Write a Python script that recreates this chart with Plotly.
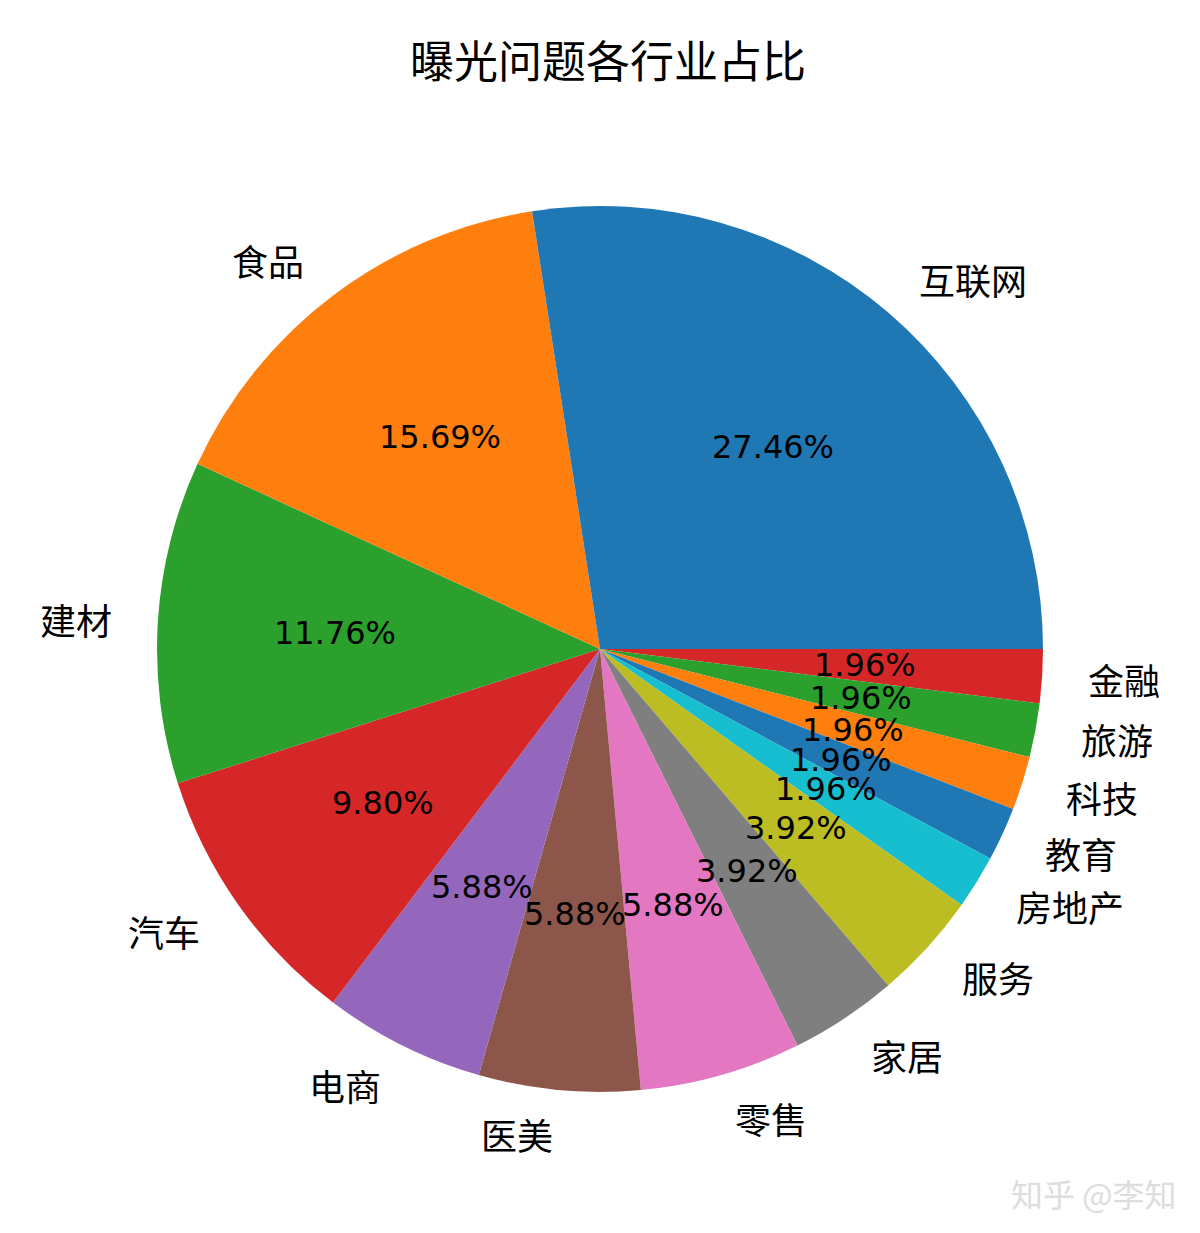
import math
import plotly.graph_objects as go

labels = ["互联网", "食品", "建材", "汽车", "电商", "医美", "零售", "家居", "服务",
          "房地产", "教育", "科技", "旅游", "金融"]
counts = [14, 8, 6, 5, 3, 3, 3, 2, 2, 1, 1, 1, 1, 1]
pct_text = ["27.46%", "15.69%", "11.76%", "9.80%", "5.88%", "5.88%", "5.88%", "3.92%",
            "3.92%", "1.96%", "1.96%", "1.96%", "1.96%", "1.96%"]
tab10 = ["#1f77b4", "#ff7f0e", "#2ca02c", "#d62728", "#9467bd", "#8c564b",
         "#e377c2", "#7f7f7f", "#bcbd22", "#17becf"]
colors = [tab10[i % 10] for i in range(len(labels))]

W, H = 1200, 1233
cx, cy, R = 592, 592, 443   # pixel centre (from bottom) and radius
font = "Noto Sans CJK SC"

# plotly draws clockwise from 3 o'clock; feed reversed order so it reads counterclockwise
fig = go.Figure(go.Pie(
    labels=labels[::-1], values=counts[::-1], sort=False, direction="clockwise",
    rotation=90, marker=dict(colors=colors[::-1]), textinfo="none",
    hoverinfo="label+percent", showlegend=False,
    domain=dict(x=[(cx - R) / W, (cx + R) / W], y=[(cy - R) / H, (cy + R) / H]),
))

total = sum(counts)
start = 0.0
annotations = []
for lab, c, pt in zip(labels, counts, pct_text):
    ang = (start + c / 2) / total * 2 * math.pi
    start += c
    co, si = math.cos(ang), math.sin(ang)
    annotations.append(dict(
        x=(cx + 1.1 * R * co) / W, y=(cy + 1.1 * R * si) / H, xref="paper", yref="paper",
        text=lab, showarrow=False, font=dict(family=font, size=36, color="black"),
        xanchor="left" if co > 0 else "right", yanchor="middle"))
    annotations.append(dict(
        x=(cx + 0.6 * R * co) / W, y=(cy + 0.6 * R * si) / H, xref="paper", yref="paper",
        text=pt, showarrow=False,
        font=dict(family="DejaVu Sans", size=32, color="black"),
        xanchor="center", yanchor="middle"))

annotations.append(dict(x=1170 / W, y=(H - 1185) / H, xref="paper", yref="paper",
                        text="知乎 @李知", showarrow=False, xanchor="right", yanchor="middle",
                        font=dict(family=font, size=32, color="#dddddd")))

fig.update_layout(
    width=W, height=H, margin=dict(l=0, r=0, t=0, b=0),
    paper_bgcolor="white", plot_bgcolor="white",
    title=dict(text="曝光问题各行业占比", x=0.5, xanchor="center", y=1 - 55 / H, yanchor="middle",
               font=dict(family=font, size=44, color="black")),
    annotations=annotations,
)

fig.write_html("out.html")
